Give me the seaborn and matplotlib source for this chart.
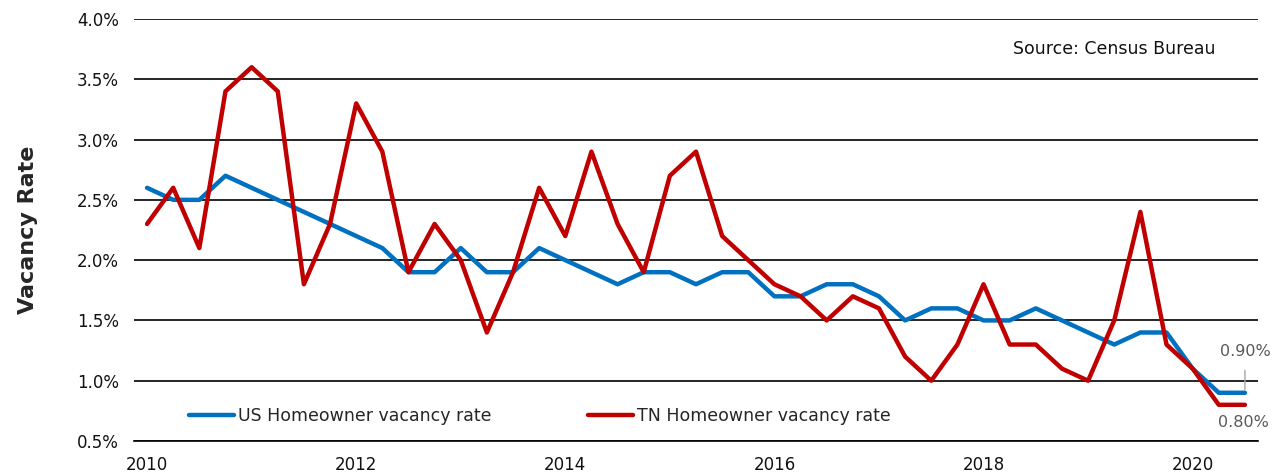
import numpy as np
import pandas as pd
import matplotlib
matplotlib.use("Agg")
import matplotlib.pyplot as plt
from matplotlib.transforms import blended_transform_factory
import seaborn as sns

# quarterly, 2010Q1 .. 2020Q3
us_rate = [2.6, 2.5, 2.5, 2.7, 2.6, 2.5, 2.4, 2.3, 2.2, 2.1, 1.9, 1.9,
           2.1, 1.9, 1.9, 2.1, 2.0, 1.9, 1.8, 1.9, 1.9, 1.8, 1.9, 1.9,
           1.7, 1.7, 1.8, 1.8, 1.7, 1.5, 1.6, 1.6, 1.5, 1.5, 1.6, 1.5,
           1.4, 1.3, 1.4, 1.4, 1.1, 0.9, 0.9]
tn_rate = [2.3, 2.6, 2.1, 3.4, 3.6, 3.4, 1.8, 2.3, 3.3, 2.9, 1.9, 2.3,
           2.0, 1.4, 1.9, 2.6, 2.2, 2.9, 2.3, 1.9, 2.7, 2.9, 2.2, 2.0,
           1.8, 1.7, 1.5, 1.7, 1.6, 1.2, 1.0, 1.3, 1.8, 1.3, 1.3, 1.1,
           1.0, 1.5, 2.4, 1.3, 1.1, 0.8, 0.8]
year_labels = ["2010", "2012", "2014", "2016", "2018", "2020"]
series_names = ["US Homeowner vacancy rate", "TN Homeowner vacancy rate"]
y_ticks = [0.5, 1.0, 1.5, 2.0, 2.5, 3.0, 3.5, 4.0]

n = len(us_rate)
df = pd.DataFrame({
    "q": list(range(n)) * 2,
    "rate": us_rate + tn_rate,
    "series": [series_names[0]] * n + [series_names[1]] * n,
})

sns.set_style("white")
plt.rcParams["font.family"] = ["DejaVu Sans"]

fig = plt.figure(figsize=(12.78, 4.76), dpi=100)
ax = fig.add_axes([134 / 1278, 35 / 476, 1124 / 1278, 422 / 476])

sns.lineplot(data=df, x="q", y="rate", hue="series", ax=ax,
             palette={series_names[0]: "#0070C0", series_names[1]: "#C00000"},
             linewidth=3.2, legend=True)

ax.set_xlim(-0.5, n - 0.5)
ax.set_ylim(0.5, 4.0)
ax.set_yticks(y_ticks)
ax.set_yticklabels(["%.1f%%" % v for v in y_ticks], fontsize=12, color="#111111")
ax.yaxis.grid(True, color="black", linewidth=1.2)
ax.tick_params(axis="y", length=0, pad=11)
for s in ["left", "right", "top"]:
    ax.spines[s].set_visible(False)
ax.spines["bottom"].set_color("black")
ax.spines["bottom"].set_linewidth(1.2)

# tick marks between the quarters
bounds = np.arange(-0.5, n, 1.0)
ax.set_xticks(bounds[::2])
ax.set_xticklabels([])
ax.set_xticks(bounds[1::2], minor=True)
ax.tick_params(axis="x", which="major", direction="inout", length=8, width=1.2, color="black")
ax.tick_params(axis="x", which="minor", direction="out", length=4, width=1.2, color="black")
ax.set_xlabel("")

# year labels under every 8th quarter
trans = blended_transform_factory(ax.transData, ax.transAxes)
for i, lab in enumerate(year_labels):
    ax.text(i * 8, -0.035, lab, transform=trans, ha="center", va="top",
            fontsize=12, color="#111111")

ax.set_ylabel("Vacancy Rate", fontsize=16, fontweight="bold", labelpad=28)

ax.legend(loc="lower left", bbox_to_anchor=(0.035, 0.0), ncol=2, frameon=False,
          fontsize=12.5, handlelength=2.6, handletextpad=0.2, columnspacing=5.6)

ax.text(0.962, 0.93, "Source: Census Bureau", transform=ax.transAxes,
        ha="right", va="center", fontsize=12.5, color="#111111")

ax.annotate("%.2f%%" % us_rate[-1], xy=(n - 1, us_rate[-1]), xytext=(0, 30),
            textcoords="offset points", ha="center", va="center", fontsize=11.5,
            color="#595959",
            arrowprops=dict(arrowstyle="-", color="#a6a6a6", lw=1, shrinkA=6, shrinkB=2))
ax.annotate("%.2f%%" % tn_rate[-1], xy=(n - 1, tn_rate[-1]), xytext=(-1, -13),
            textcoords="offset points", ha="center", va="center", fontsize=11.5,
            color="#595959")

fig.savefig("out.png", dpi=100)
